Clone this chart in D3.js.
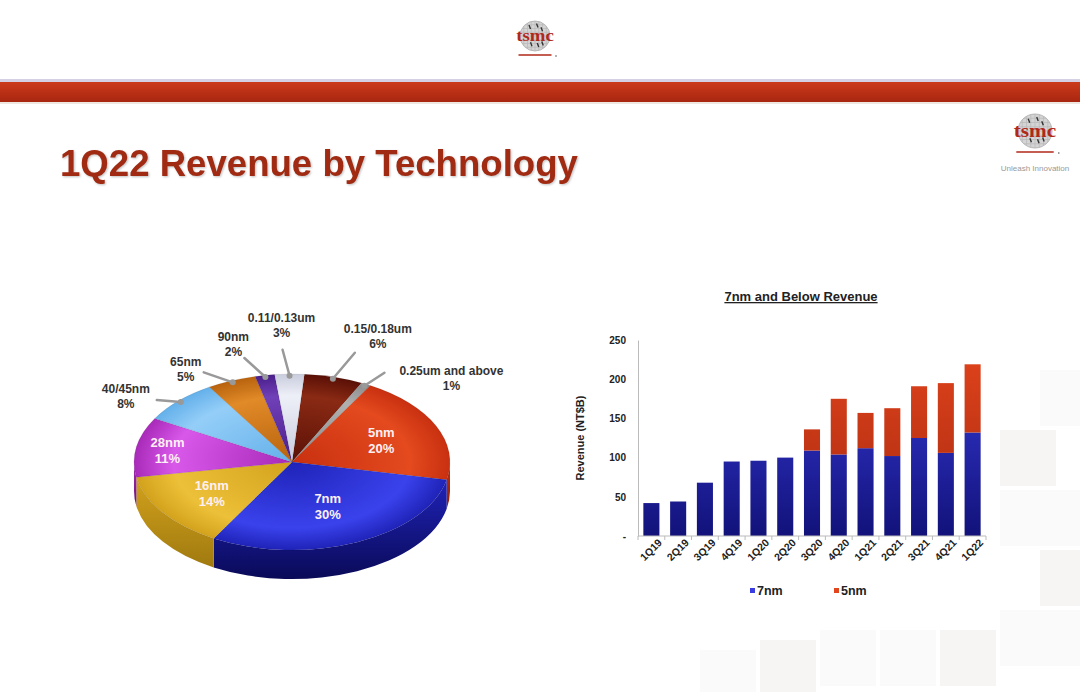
<!DOCTYPE html>
<html><head><meta charset="utf-8">
<script src="https://cdn.jsdelivr.net/npm/d3@7"></script>
<style>
html,body{margin:0;padding:0;background:#fff;}
svg{display:block;font-family:"Liberation Sans",Arial,sans-serif;}
</style></head>
<body>
<svg id="c" width="1080" height="692"></svg>
<script>
// ---------- DATA ----------
const pieLabels = ["0.15/0.18um","0.25um and above","5nm","7nm","16nm","28nm","40/45nm","65nm","90nm","0.11/0.13um"];
const pieValues = [6,1,20,30,14,11,8,5,2,3];
const quarters = ["1Q19","2Q19","3Q19","4Q19","1Q20","2Q20","3Q20","4Q20","1Q21","2Q21","3Q21","4Q21","1Q22"];
const rev7nm = [42,44,68,95,96,100,109,104,112,102,125,106,132];
const rev5nm = [0,0,0,0,0,0,27,71,45,61,66,89,87];
const yTicks = [0,50,100,150,200,250];
const seriesNames = ["7nm","5nm"];

// ---------- STYLE / LAYOUT ----------
const pieColors = {
  "0.15/0.18um":["#8a2a14","#5a1006","#3a0a04"],
  "0.25um and above":["#b0b0b0","#8a8a8a","#666"],
  "5nm":["#e44a1e","#c83010","#8a1e06"],
  "7nm":["#3a42ec","#1f23b8","#0a0a58"],
  "16nm":["#ecc038","#d3a21c","#a07a10"],
  "28nm":["#d858ea","#a82ab8","#6a1478"],
  "40/45nm":["#94cef8","#64b0ea","#3a80b8"],
  "65nm":["#e08a28","#b8620e","#7a3e06"],
  "90nm":["#7040b8","#4a1e8a","#2a0c58"],
  "0.11/0.13um":["#eef0f8","#c8ccdc","#9a9eb0"]
};
const outsideLayout = {
  "0.15/0.18um":{lx:22,ly:-26,tx:45,ty:-46},
  "0.25um and above":{lx:20,ly:-13,tx:87,ty:-11},
  "0.11/0.13um":{lx:-7,ly:-26,tx:-8,ty:-54},
  "90nm":{lx:-21,ly:-19,tx:-32,ty:-36},
  "65nm":{lx:-29,ly:-10,tx:-47,ty:-16},
  "40/45nm":{lx:-24,ly:-2,tx:-55,ty:-9}
};
const insideLayout = {"5nm":0.62,"7nm":0.55,"16nm":0.62,"28nm":0.8};

const svg = d3.select("#c");
const defs = svg.append("defs");

// background faint squares
const bg = svg.append("g");
const sq = [[1000,430],[1000,490],[1040,490],[1040,550],[1000,610],[1040,610],[940,630],[880,630],[820,630],[760,640],[700,650],[1040,370]];
sq.forEach(([x,y],i)=>bg.append("rect").attr("x",x).attr("y",y).attr("width",56).attr("height",56)
  .attr("fill", i%3===0?"#f6f5f3":"#fafafa"));

// ---------- HEADER ----------
svg.append("rect").attr("x",0).attr("y",79).attr("width",1080).attr("height",3).attr("fill","#d6d0e4");
const hg = defs.append("linearGradient").attr("id","hdr").attr("x1",0).attr("y1",0).attr("x2",0).attr("y2",1);
hg.append("stop").attr("offset",0).attr("stop-color","#cc3a1c");
hg.append("stop").attr("offset",1).attr("stop-color","#a8260f");
svg.append("rect").attr("x",0).attr("y",82).attr("width",1080).attr("height",20).attr("fill","url(#hdr)");
svg.append("rect").attr("x",0).attr("y",102).attr("width",1080).attr("height",2).attr("fill","#eee6e0");

function logo(cx, cy, r, fs){
  const g = svg.append("g");
  g.append("circle").attr("cx",cx).attr("cy",cy).attr("r",r).attr("fill","#d4d4d4").attr("stroke","#aaa").attr("stroke-width",0.8);
  for(let i=-3;i<=3;i++){
    const h = Math.sqrt(Math.max(0,r*r-(i*r/4)**2));
    g.append("line").attr("x1",cx+i*r/4).attr("x2",cx+i*r/4).attr("y1",cy-h).attr("y2",cy+h).attr("stroke","#b8b8b8").attr("stroke-width",0.7);
    g.append("line").attr("y1",cy+i*r/4).attr("y2",cy+i*r/4).attr("x1",cx-h).attr("x2",cx+h).attr("stroke","#b8b8b8").attr("stroke-width",0.7);
  }
  [[-0.4,-0.6],[0.1,-0.7],[0.4,-0.45],[-0.3,0.55],[0.15,0.6],[0.45,0.5]].forEach(([dx,dy])=>
    g.append("line").attr("x1",cx+dx*r).attr("y1",cy+dy*r-2).attr("x2",cx+dx*r+1.5).attr("y2",cy+dy*r+2).attr("stroke","#333").attr("stroke-width",1.4));
  g.append("text").attr("x",cx).attr("y",cy+fs*0.32).attr("text-anchor","middle")
    .attr("font-family","Liberation Serif, serif").attr("font-weight","bold").attr("font-size",fs)
    .attr("fill","#b0281a").attr("textLength",r*2.5).attr("lengthAdjust","spacingAndGlyphs").text("tsmc");
  g.append("line").attr("x1",cx-r*1.1).attr("x2",cx+r*1.1).attr("y1",cy+r+4).attr("y2",cy+r+4).attr("stroke","#b0281a").attr("stroke-width",1.5);
  g.append("circle").attr("cx",cx+r*1.4).attr("cy",cy+r+5).attr("r",0.8).attr("fill","#555");
}
logo(535,36,15,17);
logo(1035,131,17,19);
svg.append("text").attr("x",1035).attr("y",171).attr("text-anchor","middle").attr("font-size",8).attr("fill","#999").text("Unleash Innovation");

// title
const title = svg.append("text").attr("x",60).attr("y",176).attr("font-weight","bold").attr("font-size",35)
  .attr("fill","#a12a12").style("filter","drop-shadow(1px 1px 1px rgba(0,0,0,0.25))").text("1Q22 Revenue by Technology");
{const w = title.node().getComputedTextLength(); title.attr("font-size",35*518/w);}

// ---------- 3D PIE ----------
const cx=292, cy=462, rx=158, ry=88, depth=29;
const offset = 4.5*Math.PI/180;
const pie = d3.pie().sort(null).value(d=>d.v).startAngle(offset).endAngle(offset+2*Math.PI);
const arcs = pie(pieLabels.map((l,i)=>({l,v:pieValues[i]})));
const pt = (a,k=1,dy=0)=>[cx+rx*k*Math.sin(a), cy-ry*k*Math.cos(a)+dy];

arcs.forEach((d,i)=>{
  const c = pieColors[d.data.l];
  const g = defs.append("radialGradient").attr("id","pg"+i).attr("gradientUnits","userSpaceOnUse")
    .attr("cx",cx).attr("cy",cy).attr("r",rx).attr("gradientTransform",`translate(${cx},${cy}) scale(1,${ry/rx}) translate(${-cx},${-cy})`);
  g.append("stop").attr("offset",0).attr("stop-color",c[1]);
  g.append("stop").attr("offset",0.75).attr("stop-color",c[0]);
  g.append("stop").attr("offset",1).attr("stop-color",c[1]);
  const s = defs.append("linearGradient").attr("id","ps"+i).attr("x1",0).attr("y1",0).attr("x2",0).attr("y2",1);
  s.append("stop").attr("offset",0).attr("stop-color",c[1]);
  s.append("stop").attr("offset",1).attr("stop-color",c[2]);
});

const pieG = svg.append("g");
// sides (front half)
arcs.forEach((d,i)=>{
  const a0 = Math.max(d.startAngle, Math.PI/2), a1 = Math.min(d.endAngle, 3*Math.PI/2);
  if(a1<=a0) return;
  const s0=pt(a0), s1=pt(a1), b1=pt(a1,1,depth), b0=pt(a0,1,depth);
  const lg = a1-a0>Math.PI?1:0;
  pieG.append("path").attr("d",`M${s0}A${rx},${ry} 0 ${lg} 1 ${s1}L${b1}A${rx},${ry} 0 ${lg} 0 ${b0}Z`).attr("fill",`url(#ps${i})`);
});
// tops
arcs.forEach((d,i)=>{
  const s0=pt(d.startAngle), s1=pt(d.endAngle);
  const large = d.endAngle-d.startAngle>Math.PI?1:0;
  pieG.append("path").attr("d",`M${cx},${cy}L${s0}A${rx},${ry} 0 ${large} 1 ${s1}Z`)
    .attr("fill",`url(#pg${i})`).attr("stroke","rgba(0,0,0,0.15)").attr("stroke-width",0.5);
});

// inside labels
arcs.forEach(d=>{
  const k = insideLayout[d.data.l]; if(k===undefined) return;
  const m = (d.startAngle+d.endAngle)/2, [x,y]=pt(m,k);
  const t = pieG.append("text").attr("text-anchor","middle").attr("font-weight","bold").attr("font-size",13).attr("fill","#fff0f4");
  t.append("tspan").attr("x",x).attr("y",y-3).text(d.data.l);
  t.append("tspan").attr("x",x).attr("y",y+13).text(d.data.v+"%");
});
// outside labels with leaders
arcs.forEach(d=>{
  const L = outsideLayout[d.data.l]; if(!L) return;
  const m = (d.startAngle+d.endAngle)/2, [x,y]=pt(m,0.98);
  pieG.append("line").attr("x1",x).attr("y1",y).attr("x2",x+L.lx).attr("y2",y+L.ly)
    .attr("stroke","#999").attr("stroke-width",2.5).attr("stroke-linecap","round");
  pieG.append("circle").attr("cx",x).attr("cy",y).attr("r",3).attr("fill","#999");
  const t = pieG.append("text").attr("text-anchor","middle").attr("font-weight","bold").attr("font-size",12).attr("fill","#333");
  t.append("tspan").attr("x",x+L.tx).attr("y",y+L.ty).text(d.data.l);
  t.append("tspan").attr("x",x+L.tx).attr("y",y+L.ty+15).text(d.data.v+"%");
});

// ---------- BAR CHART ----------
const bx0=638, bx1=986, by0=536, by1=340;
const x = d3.scaleBand().domain(quarters).range([bx0,bx1]).paddingInner(0.4).paddingOuter(0.2);
const y = d3.scaleLinear().domain([0,250]).range([by0,by1]);
const table = quarters.map((q,i)=>({q,"7nm":rev7nm[i],"5nm":rev5nm[i]}));
const stack = d3.stack().keys(seriesNames)(table);
const barCols = {"7nm":["#3a3ee0","#12127a"],"5nm":["#e2441c","#a82a10"]};
seriesNames.forEach(k=>{
  const g = defs.append("linearGradient").attr("id","bg"+k).attr("gradientUnits","userSpaceOnUse")
    .attr("x1",0).attr("y1",by1).attr("x2",0).attr("y2",by0);
  g.append("stop").attr("offset",0).attr("stop-color",barCols[k][0]);
  g.append("stop").attr("offset",1).attr("stop-color",barCols[k][1]);
});
const bars = svg.append("g");
stack.forEach(s=>{
  bars.selectAll(null).data(s.filter(d=>d[1]>d[0])).enter().append("rect")
    .attr("x",d=>x(d.data.q)).attr("width",x.bandwidth())
    .attr("y",d=>y(d[1])).attr("height",d=>y(d[0])-y(d[1]))
    .attr("fill",`url(#bg${s.key})`);
});

// axes
const yAxis = svg.append("g").attr("transform",`translate(${bx0},0)`)
  .call(d3.axisLeft(y).tickValues(yTicks).tickSize(0).tickPadding(12).tickFormat(v=>v===0?"-":v));
yAxis.select(".domain").attr("stroke","#bbb");
yAxis.selectAll("text").attr("font-size",10).attr("font-weight","bold").attr("fill","#222").attr("font-family","Liberation Sans, Arial, sans-serif");
const xAxis = svg.append("g").attr("transform",`translate(0,${by0})`)
  .call(d3.axisBottom(x).tickSize(0).tickPadding(9));
xAxis.select(".domain").attr("stroke","#bbb").attr("d",`M${bx0},0H${bx1}`);
xAxis.selectAll("text").attr("font-size",10.5).attr("font-weight","bold").attr("fill","#222")
  .attr("font-family","Liberation Sans, Arial, sans-serif")
  .attr("text-anchor","end").attr("dy",0).attr("transform","translate(5,1) rotate(-45)");
quarters.forEach(q=>{
  const tx = x(q)-x.step()*x.paddingInner()/2;
  svg.append("line").attr("x1",tx).attr("x2",tx).attr("y1",by0).attr("y2",by0+4).attr("stroke","#bbb");
});
svg.append("line").attr("x1",bx1).attr("x2",bx1).attr("y1",by0).attr("y2",by0+4).attr("stroke","#bbb");

svg.append("text").attr("transform",`translate(584,${(by0+by1)/2}) rotate(-90)`).attr("text-anchor","middle")
  .attr("font-weight","bold").attr("font-size",11).attr("fill","#222").text("Revenue (NT$B)");
svg.append("text").attr("x",801).attr("y",301).attr("text-anchor","middle").attr("font-weight","bold")
  .attr("font-size",13).attr("fill","#222").attr("text-decoration","underline").text("7nm and Below Revenue");

// legend
const lgd = svg.append("g");
seriesNames.forEach((k,i)=>{
  const lx = 750 + i*84;
  lgd.append("rect").attr("x",lx).attr("y",588).attr("width",5).attr("height",5).attr("fill",barCols[k][0]);
  lgd.append("text").attr("x",lx+7).attr("y",595).attr("font-weight","bold").attr("font-size",12.5).attr("fill","#222").text(k);
});
</script>
</body></html>
